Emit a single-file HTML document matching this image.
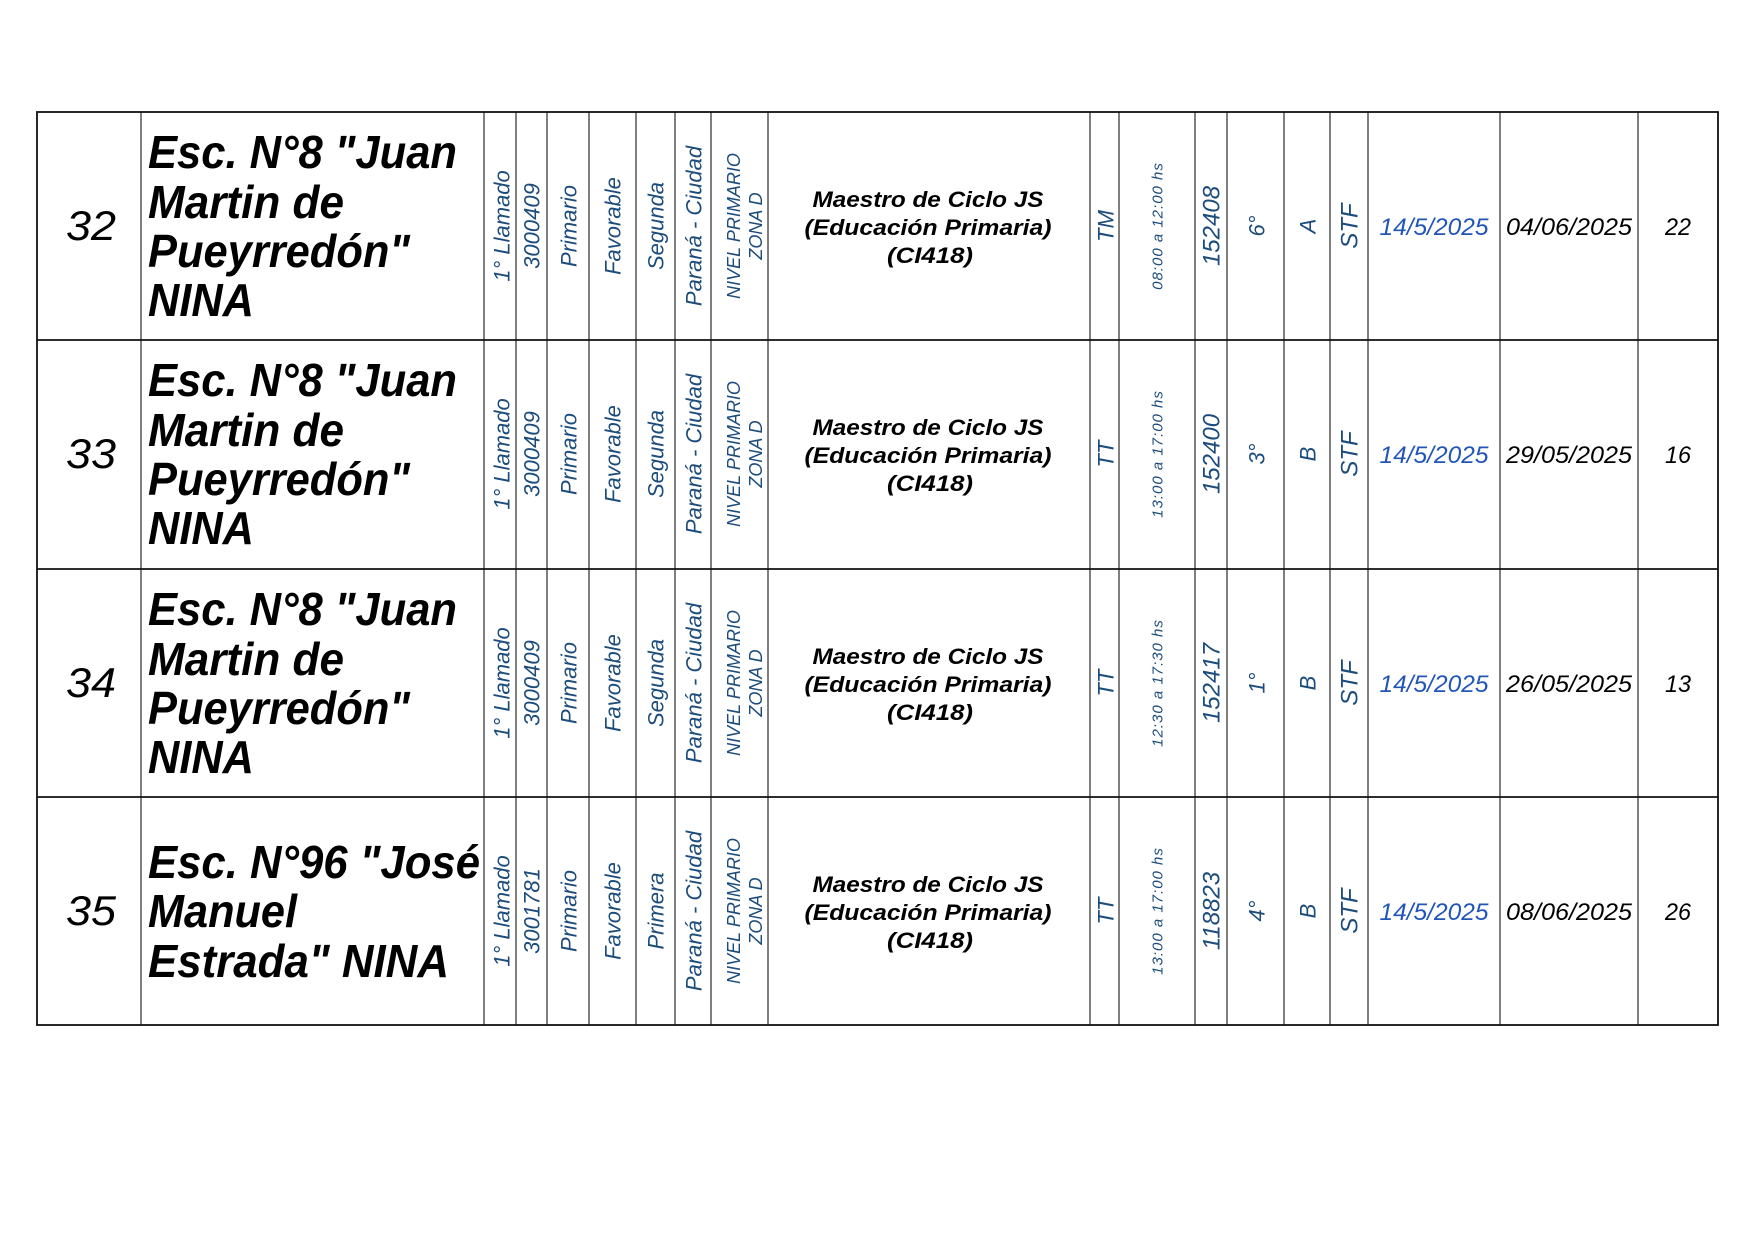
<!DOCTYPE html>
<html><head><meta charset="utf-8"><style>
html,body{margin:0;padding:0;background:#fff;}
svg{display:block}
.v{font-family:"Liberation Sans",sans-serif;font-style:italic;fill:#1c4c7c}
.n{font-family:"Liberation Sans",sans-serif;font-style:italic;font-weight:bold;fill:#000;font-size:46px}
.m{font-family:"Liberation Sans",sans-serif;font-style:italic;font-weight:bold;fill:#000;font-size:22px}
.r{font-family:"Liberation Sans",sans-serif;font-style:italic;fill:#000}
</style></head><body>
<svg width="1755" height="1240" viewBox="0 0 1755 1240" xmlns="http://www.w3.org/2000/svg">
<rect x="0" y="0" width="1755" height="1240" fill="#fff"/>
<g stroke="#555" stroke-width="1.5">
<line x1="141" y1="112" x2="141" y2="1025"/><line x1="484" y1="112" x2="484" y2="1025"/>
<line x1="516" y1="112" x2="516" y2="1025"/><line x1="547" y1="112" x2="547" y2="1025"/>
<line x1="589" y1="112" x2="589" y2="1025"/><line x1="636" y1="112" x2="636" y2="1025"/>
<line x1="675" y1="112" x2="675" y2="1025"/><line x1="711" y1="112" x2="711" y2="1025"/>
<line x1="768" y1="112" x2="768" y2="1025"/><line x1="1090" y1="112" x2="1090" y2="1025"/>
<line x1="1119" y1="112" x2="1119" y2="1025"/><line x1="1195" y1="112" x2="1195" y2="1025"/>
<line x1="1227" y1="112" x2="1227" y2="1025"/><line x1="1284" y1="112" x2="1284" y2="1025"/>
<line x1="1330" y1="112" x2="1330" y2="1025"/><line x1="1368" y1="112" x2="1368" y2="1025"/>
<line x1="1500" y1="112" x2="1500" y2="1025"/><line x1="1638" y1="112" x2="1638" y2="1025"/>
</g>
<g stroke="#111" stroke-width="1.8" fill="none">
<rect x="37" y="112" width="1681" height="913"/>
<line x1="37" y1="340" x2="1718" y2="340"/><line x1="37" y1="569" x2="1718" y2="569"/><line x1="37" y1="797" x2="1718" y2="797"/>
</g>

<!-- Row 1 -->
<g transform="translate(0,112)">
<text class="r" x="91" y="128" text-anchor="middle" style="font-size:42px" textLength="50" lengthAdjust="spacingAndGlyphs">32</text>
<text class="n" x="148" y="56" textLength="309" lengthAdjust="spacingAndGlyphs">Esc. N°8 "Juan</text>
<text class="n" x="148" y="106" textLength="196" lengthAdjust="spacingAndGlyphs">Martin de</text>
<text class="n" x="148" y="155" textLength="262" lengthAdjust="spacingAndGlyphs">Pueyrredón"</text>
<text class="n" x="148" y="204" textLength="106" lengthAdjust="spacingAndGlyphs">NINA</text>
<text class="v" style="font-size:22px" transform="translate(502,114) rotate(-90)" text-anchor="middle" dominant-baseline="central">1° Llamado</text>
<text class="v" style="font-size:22px" transform="translate(532,114) rotate(-90)" text-anchor="middle" dominant-baseline="central">3000409</text>
<text class="v" style="font-size:22px" transform="translate(569,114) rotate(-90)" text-anchor="middle" dominant-baseline="central">Primario</text>
<text class="v" style="font-size:22px" transform="translate(613,114) rotate(-90)" text-anchor="middle" dominant-baseline="central">Favorable</text>
<text class="v" style="font-size:22px" transform="translate(656,114) rotate(-90)" text-anchor="middle" dominant-baseline="central">Segunda</text>
<text class="v" style="font-size:22px" transform="translate(694,114) rotate(-90)" text-anchor="middle" dominant-baseline="central">Paraná - Ciudad</text>
<text class="v" style="font-size:18px" transform="translate(734,114) rotate(-90)" text-anchor="middle" dominant-baseline="central">NIVEL PRIMARIO</text>
<text class="v" style="font-size:18px" transform="translate(756,114) rotate(-90)" text-anchor="middle" dominant-baseline="central">ZONA D</text>
<text class="m" x="928" y="95" text-anchor="middle" textLength="231" lengthAdjust="spacingAndGlyphs">Maestro de Ciclo JS</text>
<text class="m" x="928" y="123" text-anchor="middle" textLength="247" lengthAdjust="spacingAndGlyphs">(Educación Primaria)</text>
<text class="m" x="930" y="151" text-anchor="middle" textLength="86" lengthAdjust="spacingAndGlyphs">(CI418)</text>
<text class="v" style="font-size:22px" transform="translate(1106,114) rotate(-90)" text-anchor="middle" dominant-baseline="central">TM</text>
<text class="v" style="font-size:15px;letter-spacing:1px" transform="translate(1158,114) rotate(-90)" text-anchor="middle" dominant-baseline="central">08:00 a 12:00 hs</text>
<text class="v" style="font-size:24px" transform="translate(1212,114) rotate(-90)" text-anchor="middle" dominant-baseline="central">152408</text>
<text class="v" style="font-size:22px" transform="translate(1257,114) rotate(-90)" text-anchor="middle" dominant-baseline="central">6°</text>
<text class="v" style="font-size:22px" transform="translate(1308,114) rotate(-90)" text-anchor="middle" dominant-baseline="central">A</text>
<text class="v" style="font-size:24px" transform="translate(1350,114) rotate(-90)" text-anchor="middle" dominant-baseline="central">STF</text>
<text class="r" x="1434" y="123" text-anchor="middle" style="fill:#2156b8;font-size:24px" textLength="109" lengthAdjust="spacingAndGlyphs">14/5/2025</text>
<text class="r" x="1569" y="123" text-anchor="middle" style="font-size:24px" textLength="126" lengthAdjust="spacingAndGlyphs">04/06/2025</text>
<text class="r" x="1678" y="123" text-anchor="middle" style="font-size:24px" textLength="26" lengthAdjust="spacingAndGlyphs">22</text>
</g>

<!-- Row 2 -->
<g transform="translate(0,340)">
<text class="r" x="91" y="128" text-anchor="middle" style="font-size:42px" textLength="50" lengthAdjust="spacingAndGlyphs">33</text>
<text class="n" x="148" y="56" textLength="309" lengthAdjust="spacingAndGlyphs">Esc. N°8 "Juan</text>
<text class="n" x="148" y="106" textLength="196" lengthAdjust="spacingAndGlyphs">Martin de</text>
<text class="n" x="148" y="155" textLength="262" lengthAdjust="spacingAndGlyphs">Pueyrredón"</text>
<text class="n" x="148" y="204" textLength="106" lengthAdjust="spacingAndGlyphs">NINA</text>
<text class="v" style="font-size:22px" transform="translate(502,114) rotate(-90)" text-anchor="middle" dominant-baseline="central">1° Llamado</text>
<text class="v" style="font-size:22px" transform="translate(532,114) rotate(-90)" text-anchor="middle" dominant-baseline="central">3000409</text>
<text class="v" style="font-size:22px" transform="translate(569,114) rotate(-90)" text-anchor="middle" dominant-baseline="central">Primario</text>
<text class="v" style="font-size:22px" transform="translate(613,114) rotate(-90)" text-anchor="middle" dominant-baseline="central">Favorable</text>
<text class="v" style="font-size:22px" transform="translate(656,114) rotate(-90)" text-anchor="middle" dominant-baseline="central">Segunda</text>
<text class="v" style="font-size:22px" transform="translate(694,114) rotate(-90)" text-anchor="middle" dominant-baseline="central">Paraná - Ciudad</text>
<text class="v" style="font-size:18px" transform="translate(734,114) rotate(-90)" text-anchor="middle" dominant-baseline="central">NIVEL PRIMARIO</text>
<text class="v" style="font-size:18px" transform="translate(756,114) rotate(-90)" text-anchor="middle" dominant-baseline="central">ZONA D</text>
<text class="m" x="928" y="95" text-anchor="middle" textLength="231" lengthAdjust="spacingAndGlyphs">Maestro de Ciclo JS</text>
<text class="m" x="928" y="123" text-anchor="middle" textLength="247" lengthAdjust="spacingAndGlyphs">(Educación Primaria)</text>
<text class="m" x="930" y="151" text-anchor="middle" textLength="86" lengthAdjust="spacingAndGlyphs">(CI418)</text>
<text class="v" style="font-size:22px" transform="translate(1106,114) rotate(-90)" text-anchor="middle" dominant-baseline="central">TT</text>
<text class="v" style="font-size:15px;letter-spacing:1px" transform="translate(1158,114) rotate(-90)" text-anchor="middle" dominant-baseline="central">13:00 a 17:00 hs</text>
<text class="v" style="font-size:24px" transform="translate(1212,114) rotate(-90)" text-anchor="middle" dominant-baseline="central">152400</text>
<text class="v" style="font-size:22px" transform="translate(1257,114) rotate(-90)" text-anchor="middle" dominant-baseline="central">3°</text>
<text class="v" style="font-size:22px" transform="translate(1308,114) rotate(-90)" text-anchor="middle" dominant-baseline="central">B</text>
<text class="v" style="font-size:24px" transform="translate(1350,114) rotate(-90)" text-anchor="middle" dominant-baseline="central">STF</text>
<text class="r" x="1434" y="123" text-anchor="middle" style="fill:#2156b8;font-size:24px" textLength="109" lengthAdjust="spacingAndGlyphs">14/5/2025</text>
<text class="r" x="1569" y="123" text-anchor="middle" style="font-size:24px" textLength="126" lengthAdjust="spacingAndGlyphs">29/05/2025</text>
<text class="r" x="1678" y="123" text-anchor="middle" style="font-size:24px" textLength="26" lengthAdjust="spacingAndGlyphs">16</text>
</g>

<!-- Row 3 -->
<g transform="translate(0,569)">
<text class="r" x="91" y="128" text-anchor="middle" style="font-size:42px" textLength="50" lengthAdjust="spacingAndGlyphs">34</text>
<text class="n" x="148" y="56" textLength="309" lengthAdjust="spacingAndGlyphs">Esc. N°8 "Juan</text>
<text class="n" x="148" y="106" textLength="196" lengthAdjust="spacingAndGlyphs">Martin de</text>
<text class="n" x="148" y="155" textLength="262" lengthAdjust="spacingAndGlyphs">Pueyrredón"</text>
<text class="n" x="148" y="204" textLength="106" lengthAdjust="spacingAndGlyphs">NINA</text>
<text class="v" style="font-size:22px" transform="translate(502,114) rotate(-90)" text-anchor="middle" dominant-baseline="central">1° Llamado</text>
<text class="v" style="font-size:22px" transform="translate(532,114) rotate(-90)" text-anchor="middle" dominant-baseline="central">3000409</text>
<text class="v" style="font-size:22px" transform="translate(569,114) rotate(-90)" text-anchor="middle" dominant-baseline="central">Primario</text>
<text class="v" style="font-size:22px" transform="translate(613,114) rotate(-90)" text-anchor="middle" dominant-baseline="central">Favorable</text>
<text class="v" style="font-size:22px" transform="translate(656,114) rotate(-90)" text-anchor="middle" dominant-baseline="central">Segunda</text>
<text class="v" style="font-size:22px" transform="translate(694,114) rotate(-90)" text-anchor="middle" dominant-baseline="central">Paraná - Ciudad</text>
<text class="v" style="font-size:18px" transform="translate(734,114) rotate(-90)" text-anchor="middle" dominant-baseline="central">NIVEL PRIMARIO</text>
<text class="v" style="font-size:18px" transform="translate(756,114) rotate(-90)" text-anchor="middle" dominant-baseline="central">ZONA D</text>
<text class="m" x="928" y="95" text-anchor="middle" textLength="231" lengthAdjust="spacingAndGlyphs">Maestro de Ciclo JS</text>
<text class="m" x="928" y="123" text-anchor="middle" textLength="247" lengthAdjust="spacingAndGlyphs">(Educación Primaria)</text>
<text class="m" x="930" y="151" text-anchor="middle" textLength="86" lengthAdjust="spacingAndGlyphs">(CI418)</text>
<text class="v" style="font-size:22px" transform="translate(1106,114) rotate(-90)" text-anchor="middle" dominant-baseline="central">TT</text>
<text class="v" style="font-size:15px;letter-spacing:1px" transform="translate(1158,114) rotate(-90)" text-anchor="middle" dominant-baseline="central">12:30 a 17:30 hs</text>
<text class="v" style="font-size:24px" transform="translate(1212,114) rotate(-90)" text-anchor="middle" dominant-baseline="central">152417</text>
<text class="v" style="font-size:22px" transform="translate(1257,114) rotate(-90)" text-anchor="middle" dominant-baseline="central">1°</text>
<text class="v" style="font-size:22px" transform="translate(1308,114) rotate(-90)" text-anchor="middle" dominant-baseline="central">B</text>
<text class="v" style="font-size:24px" transform="translate(1350,114) rotate(-90)" text-anchor="middle" dominant-baseline="central">STF</text>
<text class="r" x="1434" y="123" text-anchor="middle" style="fill:#2156b8;font-size:24px" textLength="109" lengthAdjust="spacingAndGlyphs">14/5/2025</text>
<text class="r" x="1569" y="123" text-anchor="middle" style="font-size:24px" textLength="126" lengthAdjust="spacingAndGlyphs">26/05/2025</text>
<text class="r" x="1678" y="123" text-anchor="middle" style="font-size:24px" textLength="26" lengthAdjust="spacingAndGlyphs">13</text>
</g>

<!-- Row 4 -->
<g transform="translate(0,797)">
<text class="r" x="91" y="128" text-anchor="middle" style="font-size:42px" textLength="50" lengthAdjust="spacingAndGlyphs">35</text>
<text class="n" x="148" y="81" textLength="332" lengthAdjust="spacingAndGlyphs">Esc. N°96 "José</text>
<text class="n" x="148" y="130" textLength="149" lengthAdjust="spacingAndGlyphs">Manuel</text>
<text class="n" x="148" y="180" textLength="301" lengthAdjust="spacingAndGlyphs">Estrada" NINA</text>
<text class="v" style="font-size:22px" transform="translate(502,114) rotate(-90)" text-anchor="middle" dominant-baseline="central">1° Llamado</text>
<text class="v" style="font-size:22px" transform="translate(532,114) rotate(-90)" text-anchor="middle" dominant-baseline="central">3001781</text>
<text class="v" style="font-size:22px" transform="translate(569,114) rotate(-90)" text-anchor="middle" dominant-baseline="central">Primario</text>
<text class="v" style="font-size:22px" transform="translate(613,114) rotate(-90)" text-anchor="middle" dominant-baseline="central">Favorable</text>
<text class="v" style="font-size:22px" transform="translate(656,114) rotate(-90)" text-anchor="middle" dominant-baseline="central">Primera</text>
<text class="v" style="font-size:22px" transform="translate(694,114) rotate(-90)" text-anchor="middle" dominant-baseline="central">Paraná - Ciudad</text>
<text class="v" style="font-size:18px" transform="translate(734,114) rotate(-90)" text-anchor="middle" dominant-baseline="central">NIVEL PRIMARIO</text>
<text class="v" style="font-size:18px" transform="translate(756,114) rotate(-90)" text-anchor="middle" dominant-baseline="central">ZONA D</text>
<text class="m" x="928" y="95" text-anchor="middle" textLength="231" lengthAdjust="spacingAndGlyphs">Maestro de Ciclo JS</text>
<text class="m" x="928" y="123" text-anchor="middle" textLength="247" lengthAdjust="spacingAndGlyphs">(Educación Primaria)</text>
<text class="m" x="930" y="151" text-anchor="middle" textLength="86" lengthAdjust="spacingAndGlyphs">(CI418)</text>
<text class="v" style="font-size:22px" transform="translate(1106,114) rotate(-90)" text-anchor="middle" dominant-baseline="central">TT</text>
<text class="v" style="font-size:15px;letter-spacing:1px" transform="translate(1158,114) rotate(-90)" text-anchor="middle" dominant-baseline="central">13:00 a 17:00 hs</text>
<text class="v" style="font-size:24px" transform="translate(1212,114) rotate(-90)" text-anchor="middle" dominant-baseline="central">118823</text>
<text class="v" style="font-size:22px" transform="translate(1257,114) rotate(-90)" text-anchor="middle" dominant-baseline="central">4°</text>
<text class="v" style="font-size:22px" transform="translate(1308,114) rotate(-90)" text-anchor="middle" dominant-baseline="central">B</text>
<text class="v" style="font-size:24px" transform="translate(1350,114) rotate(-90)" text-anchor="middle" dominant-baseline="central">STF</text>
<text class="r" x="1434" y="123" text-anchor="middle" style="fill:#2156b8;font-size:24px" textLength="109" lengthAdjust="spacingAndGlyphs">14/5/2025</text>
<text class="r" x="1569" y="123" text-anchor="middle" style="font-size:24px" textLength="126" lengthAdjust="spacingAndGlyphs">08/06/2025</text>
<text class="r" x="1678" y="123" text-anchor="middle" style="font-size:24px" textLength="26" lengthAdjust="spacingAndGlyphs">26</text>
</g>
</svg>
</body></html>
